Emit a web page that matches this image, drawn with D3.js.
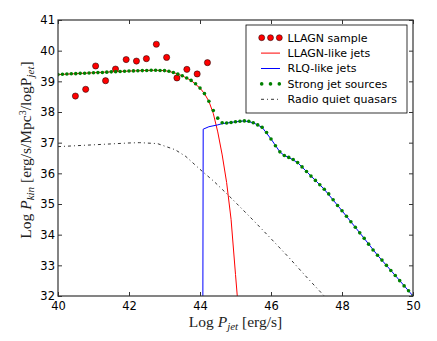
<!DOCTYPE html>
<html>
<head>
<meta charset="utf-8">
<script src="https://cdn.jsdelivr.net/npm/d3@7"></script>
<style>
  body { margin: 0; background: #fff; }
  svg { display: block; }
  .tick text { font-family: "DejaVu Sans", sans-serif; font-size: 11.5px; fill: #000; }
  .tick line { stroke: #000; stroke-width: 0.8; }
  .lbl { font-family: "Liberation Serif", "DejaVu Serif", serif; font-size: 15.5px; fill: #222; }
  .leg { font-family: "DejaVu Sans", sans-serif; font-size: 11px; fill: #000; }
</style>
</head>
<body>
<svg width="437" height="341"></svg>
<script>
// LLAGN sample points (log Pjet, log Pkin)
var sampleX = [40.49, 40.78, 41.06, 41.34, 41.62, 41.92, 42.21, 42.49, 42.77, 43.06, 43.35, 43.63, 43.92, 44.21];
var sampleY = [38.52, 38.74, 39.50, 39.02, 39.40, 39.71, 39.66, 39.74, 40.21, 39.78, 39.11, 39.39, 39.24, 39.61];

// strong jet sources (green dots)
var strongX = [40.000, 40.125, 40.250, 40.375, 40.500, 40.625, 40.750, 40.875, 41.000, 41.125,
               41.250, 41.375, 41.500, 41.625, 41.750, 41.875, 42.000, 42.125, 42.250, 42.375,
               42.500, 42.625, 42.750, 42.875, 43.000, 43.125, 43.250, 43.375, 43.500, 43.625,
               43.750, 43.875, 44.000, 44.125, 44.250, 44.375, 44.500, 44.625, 44.750, 44.875,
               45.000, 45.125, 45.250, 45.375, 45.500, 45.625, 45.750, 45.875, 46.000, 46.125,
               46.250, 46.375, 46.500, 46.625, 46.750, 46.875, 47.000, 47.125, 47.250, 47.375,
               47.500, 47.625, 47.750, 47.875, 48.000, 48.125, 48.250, 48.375, 48.500, 48.625,
               48.750, 48.875, 49.000, 49.125, 49.250, 49.375, 49.500, 49.625, 49.750, 49.875, 50.000];
var strongY = [39.22, 39.23, 39.24, 39.245, 39.25, 39.26, 39.265, 39.27, 39.28, 39.285,
               39.29, 39.30, 39.31, 39.315, 39.32, 39.33, 39.335, 39.34, 39.345, 39.35,
               39.355, 39.36, 39.36, 39.355, 39.35, 39.33, 39.29, 39.24, 39.18, 39.11,
               39.03, 38.92, 38.78, 38.60, 38.35, 38.05, 37.80, 37.65, 37.64, 37.66,
               37.68, 37.70, 37.71, 37.70, 37.65, 37.58, 37.50, 37.33, 37.12, 36.90,
               36.70, 36.58, 36.52, 36.45, 36.35, 36.21, 36.06, 35.91, 35.77, 35.63,
               35.48, 35.33, 35.14, 34.95, 34.78, 34.60, 34.42, 34.24, 34.06, 33.88,
               33.69, 33.50, 33.33, 33.17, 33.00, 32.83, 32.67, 32.50, 32.33, 32.17, 32.00];

// LLAGN-like jets (red line)
var llagnX = [40.0, 40.5, 41.0, 41.5, 42.0, 42.5, 42.75, 43.0, 43.25, 43.5, 43.75, 44.0, 44.125, 44.25, 44.375, 44.5, 44.625, 44.75, 44.875, 45.0, 45.05];
var llagnY = [39.22, 39.25, 39.28, 39.31, 39.335, 39.355, 39.36, 39.35, 39.29, 39.18, 39.03, 38.78, 38.60, 38.35, 37.95, 37.35, 36.60, 35.70, 34.50, 32.70, 32.00];

// RLQ-like jets (blue line)
var rlqX = [44.08, 44.09, 44.25, 44.5, 44.625, 44.75, 45.0, 45.25, 45.5, 45.75, 46.0, 46.25, 46.375, 46.5, 46.75, 47.0, 47.5, 48.0, 48.5, 49.0, 49.5, 50.0];
var rlqY = [31.5, 37.44, 37.52, 37.58, 37.62, 37.64, 37.68, 37.71, 37.65, 37.50, 37.12, 36.70, 36.58, 36.52, 36.35, 36.06, 35.48, 34.78, 34.06, 33.33, 32.67, 32.00];

// radio quiet quasars (black dash-dot)
var rqqX = [40.0, 40.5, 41.0, 41.5, 42.0, 42.3, 42.8, 43.3, 43.6, 44.0, 44.4, 44.9, 45.5, 46.0, 46.5, 47.0, 47.5];
var rqqY = [36.87, 36.90, 36.93, 36.96, 36.99, 37.00, 36.97, 36.77, 36.55, 36.13, 35.73, 35.17, 34.47, 33.87, 33.26, 32.62, 32.00];

var legendLabels = ["LLAGN sample", "LLAGN-like jets", "RLQ-like jets", "Strong jet sources", "Radio quiet quasars"];
var xTicks = [40, 42, 44, 46, 48, 50];
var yTicks = [32, 33, 34, 35, 36, 37, 38, 39, 40, 41];

var svg = d3.select('svg');
var padL = 58, padR = 413, padT = 20, padB = 296;

var x = d3.scaleLinear().domain([40, 50]).range([padL, padR]);
var y = d3.scaleLinear().domain([32, 41]).range([padB, padT]);

svg.append('clipPath').attr('id', 'plotclip')
  .append('rect').attr('x', padL).attr('y', padT)
  .attr('width', padR - padL).attr('height', padB - padT);

var plot = svg.append('g').attr('clip-path', 'url(#plotclip)');

var zip = function(xs, ys) { return xs.map(function(v, i) { return [v, ys[i]]; }); };
var line = d3.line().x(function(d) { return x(d[0]); }).y(function(d) { return y(d[1]); });

// red sample dots
plot.selectAll('circle.sample').data(zip(sampleX, sampleY))
  .enter().append('circle')
  .attr('class', 'sample')
  .attr('cx', function(d) { return x(d[0]); })
  .attr('cy', function(d) { return y(d[1]); })
  .attr('r', 3.1)
  .attr('fill', '#ff0000')
  .attr('stroke', '#000').attr('stroke-width', 0.5);

plot.append('path').datum(zip(llagnX, llagnY))
  .attr('d', line).attr('fill', 'none').attr('stroke', '#ff0000').attr('stroke-width', 1);

plot.append('path').datum(zip(rlqX, rlqY))
  .attr('d', line).attr('fill', 'none').attr('stroke', '#0000ff').attr('stroke-width', 1);

plot.selectAll('circle.strong').data(zip(strongX, strongY))
  .enter().append('circle')
  .attr('class', 'strong')
  .attr('cx', function(d) { return x(d[0]); })
  .attr('cy', function(d) { return y(d[1]); })
  .attr('r', 1.8)
  .attr('fill', '#008000');

plot.append('path').datum(zip(rqqX, rqqY))
  .attr('d', line).attr('fill', 'none').attr('stroke', '#000')
  .attr('stroke-width', 0.8).attr('stroke-dasharray', '3,3,1,3');

// axes, ticks pointing inward on all four sides
var gx = svg.append('g').attr('transform', 'translate(0,' + padB + ')')
  .call(d3.axisBottom(x).tickValues(xTicks).tickSizeInner(-4).tickSizeOuter(0).tickPadding(6));
var gy = svg.append('g').attr('transform', 'translate(' + padL + ',0)')
  .call(d3.axisLeft(y).tickValues(yTicks).tickSizeInner(-4).tickSizeOuter(0).tickPadding(3));
var gt = svg.append('g').attr('transform', 'translate(0,' + padT + ')')
  .call(d3.axisTop(x).tickValues(xTicks).tickSizeInner(-4).tickSizeOuter(0).tickFormat(''));
var gr = svg.append('g').attr('transform', 'translate(' + padR + ',0)')
  .call(d3.axisRight(y).tickValues(yTicks).tickSizeInner(-4).tickSizeOuter(0).tickFormat(''));
[gx, gy, gt, gr].forEach(function(g) { g.select('.domain').remove(); g.attr('font-family', null).attr('font-size', null); });

svg.append('rect').attr('x', padL).attr('y', padT)
  .attr('width', padR - padL).attr('height', padB - padT)
  .attr('fill', 'none').attr('stroke', '#333').attr('stroke-width', 1.2);

// axis labels
var xl = svg.append('text').attr('class', 'lbl')
  .attr('x', (padL + padR) / 2).attr('y', 327).attr('text-anchor', 'middle');
xl.append('tspan').text('Log ');
xl.append('tspan').attr('font-style', 'italic').text('P');
xl.append('tspan').attr('font-style', 'italic').attr('font-size', '11px').attr('dy', 3).text('jet');
xl.append('tspan').attr('dy', -3).text(' [erg/s]');

var yl = svg.append('text').attr('class', 'lbl')
  .attr('transform', 'translate(31,150) rotate(-90)').attr('text-anchor', 'middle');
yl.append('tspan').text('Log ');
yl.append('tspan').attr('font-style', 'italic').text('P');
yl.append('tspan').attr('font-style', 'italic').attr('font-size', '11px').attr('dy', 3).text('kin');
yl.append('tspan').attr('dy', -3).text('  [erg/s/Mpc');
yl.append('tspan').attr('font-size', '10px').attr('dy', -5).text('3');
yl.append('tspan').attr('dy', 5).text('/logP');
yl.append('tspan').attr('font-style', 'italic').attr('font-size', '11px').attr('dy', 3).text('jet');
yl.append('tspan').attr('dy', -3).text(']');

// legend
var leg = svg.append('g');
leg.append('rect').attr('x', 246).attr('y', 25).attr('width', 161).attr('height', 88)
  .attr('fill', '#fff').attr('stroke', '#000').attr('stroke-width', 0.8);

var rowY = function(i) { return 37.7 + i * 15.4; };
var symX = [261.7, 270.5, 279.3];

leg.selectAll('text').data(legendLabels).enter().append('text')
  .attr('class', 'leg')
  .attr('x', 287.5).attr('y', function(d, i) { return rowY(i); })
  .attr('dy', '0.36em').text(function(d) { return d; });

leg.selectAll('circle.ls').data(symX).enter().append('circle')
  .attr('cx', function(d) { return d; }).attr('cy', rowY(0)).attr('r', 3.0)
  .attr('fill', '#ff0000').attr('stroke', '#000').attr('stroke-width', 0.5);
leg.append('line').attr('x1', 261).attr('x2', 280).attr('y1', rowY(1)).attr('y2', rowY(1))
  .attr('stroke', '#ff0000').attr('stroke-width', 1);
leg.append('line').attr('x1', 261).attr('x2', 280).attr('y1', rowY(2)).attr('y2', rowY(2))
  .attr('stroke', '#0000ff').attr('stroke-width', 1);
leg.selectAll('circle.lg').data(symX).enter().append('circle')
  .attr('cx', function(d) { return d; }).attr('cy', rowY(3)).attr('r', 1.8)
  .attr('fill', '#008000');
leg.append('line').attr('x1', 261).attr('x2', 280).attr('y1', rowY(4)).attr('y2', rowY(4))
  .attr('stroke', '#000').attr('stroke-width', 0.8).attr('stroke-dasharray', '3,3,1,3');
</script>
</body>
</html>
